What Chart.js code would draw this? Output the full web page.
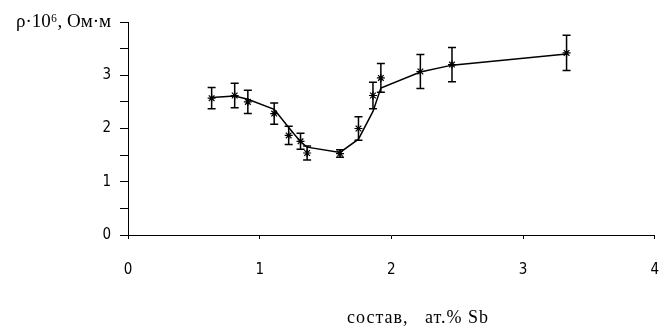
<!DOCTYPE html>
<html>
<head>
<meta charset="utf-8">
<script src="https://cdn.jsdelivr.net/npm/chart.js@4.4.0/dist/chart.umd.min.js"></script>
<style>
  html, body { margin: 0; padding: 0; background: #fff; }
</style>
</head>
<body>
<canvas id="chart" width="660" height="333"></canvas>
<script>
// composition, at.% Sb
const composition = [0.635, 0.81, 0.91, 1.11, 1.22, 1.31, 1.36, 1.61, 1.75, 1.86, 1.92, 2.22, 2.46, 3.33];
// measured resistivity, 10^-6 Ohm*m
const resistivity = [2.57, 2.62, 2.50, 2.28, 1.87, 1.76, 1.54, 1.53, 2.00, 2.62, 2.95, 3.07, 3.20, 3.42];
const errors = [0.20, 0.23, 0.22, 0.20, 0.17, 0.15, 0.13, 0.07, 0.22, 0.25, 0.27, 0.32, 0.32, 0.33];
// smoothed curve drawn through the points
const trend = [2.58, 2.61, 2.55, 2.36, 2.02, 1.75, 1.65, 1.55, 1.80, 2.32, 2.76, 3.06, 3.19, 3.40];

const yTitle = 'ρ·10⁶, Ом·м';
const xTitle = 'состав,   ат.% Sb';

const tickFont = { family: "'Liberation Sans Narrow', 'DejaVu Sans Condensed', sans-serif", size: 15 };
const serif = "'Liberation Serif', 'DejaVu Serif', serif";

const errorBars = {
    id: 'errorBars',
    afterDatasetsDraw(chart) {
        const { ctx, scales: { x, y } } = chart;
        ctx.save();
        ctx.strokeStyle = '#000';
        ctx.lineWidth = 1.5;
        composition.forEach((c, i) => {
            const px = x.getPixelForValue(c);
            const top = y.getPixelForValue(resistivity[i] + errors[i]);
            const bot = y.getPixelForValue(resistivity[i] - errors[i]);
            ctx.beginPath();
            ctx.moveTo(px, top); ctx.lineTo(px, bot);
            ctx.moveTo(px - 4, top); ctx.lineTo(px + 4, top);
            ctx.moveTo(px - 4, bot); ctx.lineTo(px + 4, bot);
            ctx.stroke();
        });
        ctx.restore();
    }
};

const xAxisTitle = {
    id: 'xAxisTitle',
    afterDraw(chart) {
        const ctx = chart.ctx;
        ctx.save();
        ctx.font = '18px ' + serif;
        ctx.letterSpacing = '1px';
        ctx.fillStyle = '#000';
        ctx.textAlign = 'center';
        ctx.textBaseline = 'middle';
        ctx.fillText(xTitle, 418, 318);
        ctx.restore();
    }
};

new Chart(document.getElementById('chart'), {
    type: 'scatter',
    data: {
        datasets: [
            {
                data: composition.map((c, i) => ({ x: c, y: trend[i] })),
                showLine: true,
                borderColor: '#000',
                borderWidth: 1.5,
                pointRadius: 0,
                tension: 0
            },
            {
                data: composition.map((c, i) => ({ x: c, y: resistivity[i] })),
                pointStyle: 'star',
                pointRadius: 4,
                borderColor: '#000',
                borderWidth: 1.2,
                backgroundColor: '#000'
            }
        ]
    },
    options: {
        responsive: false,
        animation: false,
        layout: { padding: { top: 22, right: 5, left: 0, bottom: 0 } },
        plugins: {
            legend: { display: false },
            tooltip: { enabled: false }
        },
        scales: {
            x: {
                type: 'linear',
                min: 0,
                max: 4,
                ticks: { stepSize: 1, color: '#000', font: tickFont, padding: 22 },
                grid: { drawOnChartArea: false, color: '#000', tickLength: 4 },
                border: { color: '#000', width: 1 },
                afterFit: (s) => { s.height = 98; s.paddingLeft = 0; s.paddingRight = 0; }
            },
            y: {
                min: 0,
                max: 4,
                ticks: {
                    stepSize: 0.5,
                    color: '#000',
                    padding: 9,
                    font: (ctx) => ctx.tick && ctx.tick.value === 4
                        ? { family: serif, size: 19 }
                        : tickFont,
                    callback: (v) => v === 4 ? yTitle : (Number.isInteger(v) ? v : '')
                },
                grid: { drawOnChartArea: false, color: '#000', tickLength: 8 },
                border: { color: '#000', width: 1 },
                afterFit: (s) => { s.width = 128; s.paddingTop = 0; s.paddingBottom = 0; }
            }
        }
    },
    plugins: [errorBars, xAxisTitle]
});
</script>
</body>
</html>
